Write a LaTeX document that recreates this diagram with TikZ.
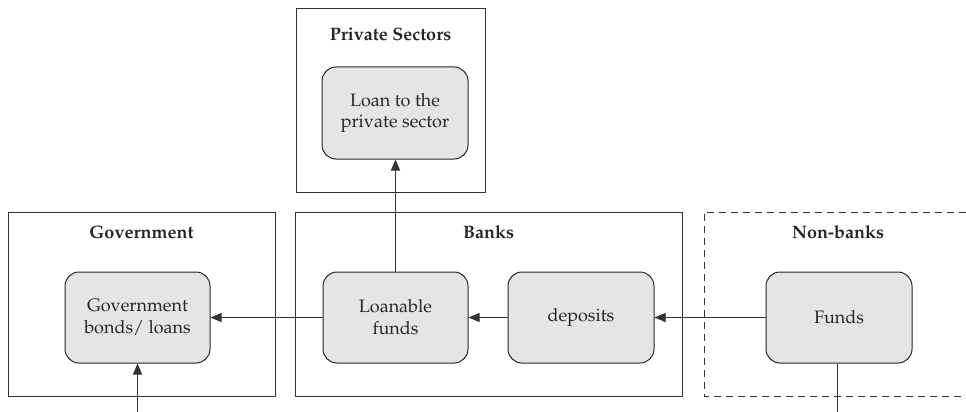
\documentclass[tikz,border=0pt]{standalone}
\usepackage[T1]{fontenc}
\renewcommand{\rmdefault}{ppl}
\usetikzlibrary{arrows.meta}
\begin{document}
\begin{tikzpicture}[x=1pt,y=-1pt,
  outerbox/.style={draw=black!80, line width=1pt, inner sep=0pt},
  innerbox/.style={draw=black!85, line width=1pt, fill=black!10, rounded corners=14pt,
    minimum width=146pt, minimum height=91pt, align=center, inner sep=0pt,
    font=\fontsize{18}{21.7}\selectfont, text=black!85},
  titletext/.style={font=\bfseries\fontsize{18}{21}\selectfont, text=black!85},
  flow/.style={draw=black!80, line width=1pt, -{Triangle[length=11pt,width=9pt]}},
  plainline/.style={draw=black!80, line width=1pt}]
\useasboundingbox (0,0) rectangle (966,412);
% outer boxes
\node[outerbox, minimum width=189pt, minimum height=183pt] (privbox) at (390.5,100.5) {};
\node[outerbox, minimum width=267pt, minimum height=184pt] (govbox) at (141.5,304) {};
\node[outerbox, minimum width=387pt, minimum height=184pt] (bankbox) at (488.5,304) {};
\draw[draw=black!80, line width=1pt, dash pattern=on 7pt off 5pt]
  (966,212) -- (704,212) -- (704,396) -- (966,396);
% titles
\node[titletext] (privtitle) at (390.5,34) {Private Sectors};
\node[titletext] (govtitle) at (141.5,232) {Government};
\node[titletext] (banktitle) at (488.5,232) {Banks};
\node[titletext] (nbtitle) at (838,232) {Non-banks};
% inner boxes
\node[innerbox, minimum height=92pt] (loan) at (395,113) {Loan to the\\private sector};
\node[innerbox, minimum width=145pt] (gov) at (137.5,317.5) {Government\\bonds/ loans};
\node[innerbox, minimum width=145pt] (loanable) at (395.5,317.5) {Loanable\\funds};
\node[innerbox] (deposits) at (581,317.5) {deposits};
\node[innerbox] (funds) at (839,317.5) {Funds};
% connectors
\coordinate (govin) at (137.5,412);
\coordinate (fundsout) at (837,412);
\draw[flow] (loanable.north) -- (loanable.north |- loan.south);
\draw[flow] (loanable.west) -- (gov.east);
\draw[flow] (deposits.west) -- (loanable.east);
\draw[flow] (funds.west) -- (deposits.east);
\draw[flow] (govin) -- (gov.south);
\draw[plainline] (funds.south -| fundsout) -- (fundsout);
\end{tikzpicture}
\end{document}
